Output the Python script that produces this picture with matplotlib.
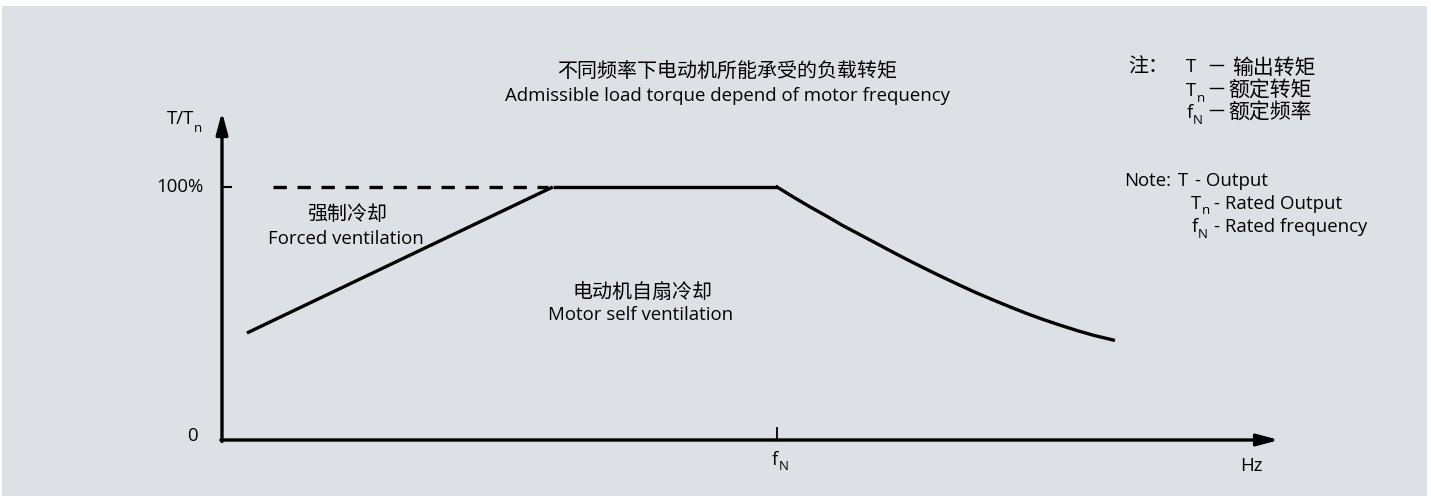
import matplotlib.pyplot as plt
from matplotlib.patches import Rectangle

plt.rcParams['font.family'] = ['Open Sans', 'Noto Sans CJK SC', 'DejaVu Sans']

# Drehmomentkurve: x = f/fN, y = T/Tn in %
f_rise = [0.045, 0.596]
t_rise = [42.3, 100.0]
f_flat = [0.596, 1.0]
t_flat = [100.0, 100.0]
f_fall = [1.0, 1.029, 1.059, 1.09, 1.119, 1.15, 1.18, 1.21, 1.24, 1.27, 1.30,
          1.33, 1.36, 1.39, 1.42, 1.45, 1.48, 1.51, 1.54, 1.57, 1.606]
t_fall = [100.0, 96.1, 92.2, 88.4, 84.7, 81.1, 77.6, 74.1, 70.7, 67.4, 64.2,
          61.1, 58.1, 55.3, 52.6, 50.0, 47.6, 45.4, 43.3, 41.4, 39.5]
f_dash = [0.092, 0.587]
t_dash = [100.0, 100.0]

W, H = 1431, 496
fig = plt.figure(figsize=(W / 100, H / 100), dpi=100)
fig.patch.set_facecolor('white')
ax = fig.add_axes([0, 0, 1, 1])
# 0 Hz bei x=222 px, fN bei x=777 px; 0 % bei y=440 px, 100 % bei y=187 px
ax.set_xlim(-222 / 555, (W - 222) / 555)
ax.set_ylim((440 - H) / 2.53, 440 / 2.53)
ax.axis('off')


def px(x, y):
    # Pixelposition -> Datenkoordinaten (nur für Beschriftungen)
    return (x - 222) / 555, (440 - y) / 2.53


bg = '#dde1e5'
ax.add_patch(Rectangle((2 / W, 0.0), 1425 / W, 490 / H, transform=ax.transAxes,
                       facecolor=bg, edgecolor='none', zorder=0))

lw = 2.4
ax.plot(f_rise, t_rise, color='black', lw=lw, solid_capstyle='butt')
ax.plot(f_flat, t_flat, color='black', lw=lw, solid_capstyle='butt')
ax.plot(f_fall, t_fall, color='black', lw=lw, solid_joinstyle='round')
ax.plot(f_dash, t_dash, color='black', lw=lw, dashes=(4, 3.2))

# Achsen mit Pfeilen
arrow = dict(arrowstyle='-|>,head_length=1.3,head_width=0.35', color='black', lw=lw,
             shrinkA=0, shrinkB=0)
ax.annotate('', xy=px(222, 112), xytext=(0, -0.6), arrowprops=arrow)
ax.annotate('', xy=px(1279, 440), xytext=(-0.002, 0), arrowprops=arrow)
ax.plot([0, 0.016], [100, 100], color='black', lw=1.5)
ax.plot([1.0, 1.0], [0, 4.7], color='black', lw=1.3)

fs = 13.4     # lateinische Schrift
fc = 14.4     # chinesische Schrift
fsub = 9.5


def txt(x, y, s, size=fs, **kw):
    kw.setdefault('va', 'center')
    kw.setdefault('ha', 'left')
    ax.text(*px(x, y), s, fontsize=size, **kw)


txt(204, 187, '100%', ha='right')
txt(198, 436, '0', ha='right')
txt(167, 119, 'T/T')
txt(194, 128, 'n', size=fsub)
txt(772, 460, 'f')
txt(779, 466, 'N', size=fsub)
txt(1251, 466, 'Hz', ha='center')

txt(727, 72, '不同频率下电动机所能承受的负载转矩', size=fc, ha='center')
txt(727, 96, 'Admissible load torque depend of motor frequency', ha='center')
txt(347, 215, '强制冷却', size=fc, ha='center')
txt(346, 239, 'Forced ventilation', ha='center')
txt(642, 293, '电动机自扇冷却', size=fc, ha='center')
txt(641, 315, 'Motor self ventilation', ha='center')

# Legende rechts oben
txt(1128, 68, '注：', size=fc)
txt(1186, 67, 'T')
txt(1206, 68, '－', size=fc)
txt(1232, 68, '输出转矩', size=15)
txt(1186, 91, 'T')
txt(1197, 98, 'n', size=fsub)
txt(1206, 91, '－', size=fc)
txt(1228, 91, '额定转矩', size=15)
txt(1187, 113, 'f')
txt(1193, 120, 'N', size=fsub)
txt(1206, 113, '－', size=fc)
txt(1228, 113, '额定频率', size=15)

txt(1124, 181, 'Note:')
txt(1178, 181, 'T')
txt(1195, 181, '- Output')
txt(1191, 204, 'T')
txt(1202, 211, 'n', size=fsub)
txt(1214, 204, '- Rated Output')
txt(1192, 227, 'f')
txt(1198, 234, 'N', size=fsub)
txt(1214, 227, '- Rated frequency')

fig.savefig('out.png', dpi=100, facecolor='white')
